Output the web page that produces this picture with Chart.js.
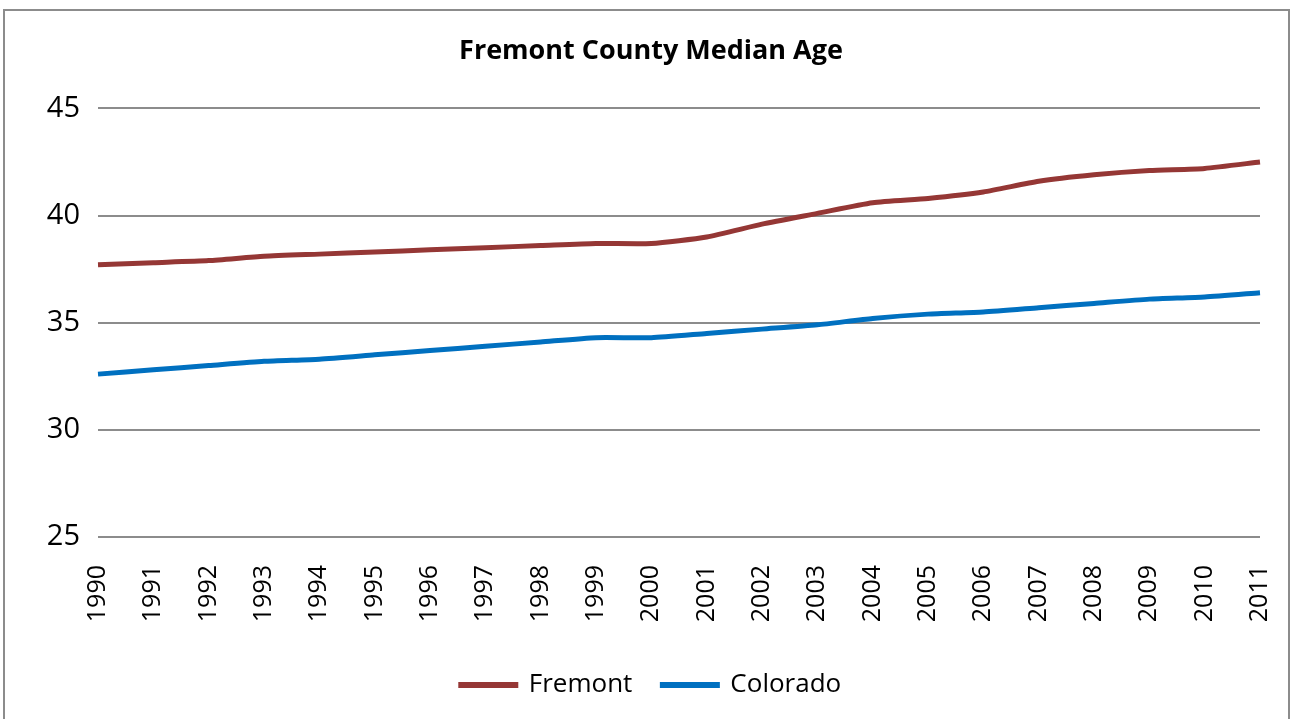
<!DOCTYPE html>
<html>
<head>
<meta charset="utf-8">
<script src="https://cdn.jsdelivr.net/npm/chart.js@4.4.1/dist/chart.umd.min.js"></script>
<style>
  html, body { margin: 0; padding: 0; background: #fff; }
  #wrap { position: relative; width: 1296px; height: 719px; overflow: hidden; }
  #frame { position: absolute; left: 3px; top: 9px; width: 1287px; height: 730px; border: 2px solid #8c8c8c; box-sizing: border-box; }
  #chartBox { position: absolute; left: 0; top: 0; width: 1296px; height: 719px; }
</style>
</head>
<body>
<div id="wrap">
  <div id="frame"></div>
  <div id="chartBox"><canvas id="ageChart"></canvas></div>
</div>
<script>
// Years on the x axis
const years = ['1990', '1991', '1992', '1993', '1994', '1995', '1996', '1997', '1998', '1999', '2000',
               '2001', '2002', '2003', '2004', '2005', '2006', '2007', '2008', '2009', '2010', '2011'];

// Median age
const fremontAge = [37.7, 37.8, 37.9, 38.1, 38.2, 38.3, 38.4, 38.5, 38.6, 38.7, 38.7,
                    39.0, 39.6, 40.1, 40.6, 40.8, 41.1, 41.6, 41.9, 42.1, 42.2, 42.5];
const coloradoAge = [32.6, 32.8, 33.0, 33.2, 33.3, 33.5, 33.7, 33.9, 34.1, 34.3, 34.3,
                     34.5, 34.7, 34.9, 35.2, 35.4, 35.5, 35.7, 35.9, 36.1, 36.2, 36.4];

const yTicks = [25, 30, 35, 40, 45];

const fontFamily = "'Open Sans', 'DejaVu Sans', sans-serif";

const ctx = document.getElementById('ageChart').getContext('2d');
new Chart(ctx, {
    type: 'line',
    data: {
        labels: years,
        datasets: [
            {
                label: 'Fremont',
                data: fremontAge,
                borderColor: '#953735',
                backgroundColor: '#953735',
                borderWidth: 5,
                pointRadius: 0,
                tension: 0.2,
                fill: false
            },
            {
                label: 'Colorado',
                data: coloradoAge,
                borderColor: '#0070c0',
                backgroundColor: '#0070c0',
                borderWidth: 5,
                pointRadius: 0,
                tension: 0.2,
                fill: false
            }
        ]
    },
    options: {
        responsive: true,
        maintainAspectRatio: false,
        animation: false,
        layout: { padding: { left: 42, right: 36, top: 20, bottom: 11 } },
        plugins: {
            title: {
                display: true,
                text: 'Fremont County Median Age',
                color: '#000',
                font: { family: fontFamily, size: 27, weight: 'bold' },
                padding: { top: 15, bottom: 41 }
            },
            legend: {
                display: true,
                position: 'bottom',
                labels: {
                    color: '#000',
                    font: { family: fontFamily, size: 26 },
                    boxWidth: 55,
                    boxHeight: 1,
                    padding: 30
                }
            },
            tooltip: { enabled: false }
        },
        scales: {
            x: {
                offset: false,
                grid: { display: false, drawTicks: false },
                border: { display: false },
                ticks: {
                    color: '#000',
                    font: { family: fontFamily, size: 25 },
                    minRotation: 90,
                    maxRotation: 90,
                    autoSkip: false,
                    padding: 28
                },
                afterFit: scale => {
                    scale.height = 105;
                    // first and last year sit on the plot edges, keep the plot width fixed
                    scale.paddingLeft = 0;
                    scale.paddingRight = 0;
                }
            },
            y: {
                min: 25,
                max: 45,
                afterBuildTicks: scale => { scale.ticks = yTicks.map(v => ({ value: v })); },
                grid: { color: '#8c8c8c', lineWidth: 2, drawTicks: false },
                border: { display: false },
                ticks: {
                    color: '#000',
                    font: { family: fontFamily, size: 29 },
                    padding: 18
                },
                afterFit: scale => { scale.width = 56; }
            }
        }
    }
});
</script>
</body>
</html>
